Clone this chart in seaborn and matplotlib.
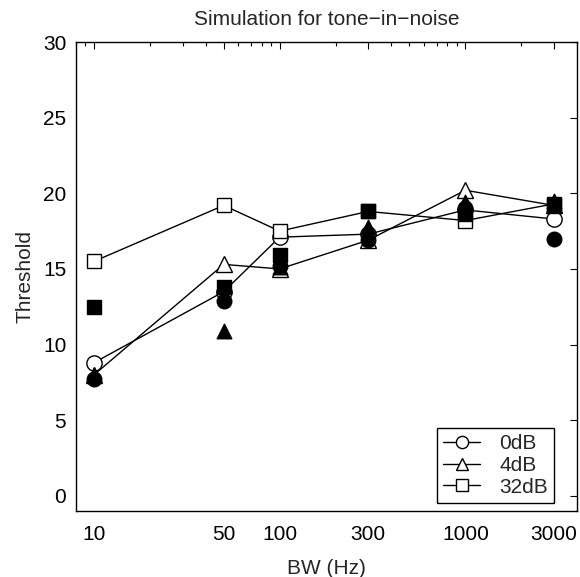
import matplotlib
matplotlib.use("Agg")
import matplotlib.pyplot as plt
import matplotlib.ticker as mticker
import numpy as np
import pandas as pd
import seaborn as sns

# Bandwidths (Hz)
bw = [10, 50, 100, 300, 1000, 3000]

# Simulated thresholds (open markers, joined by lines)
sim_0db = [8.8, 13.5, 17.1, 17.3, 18.9, 18.3]
sim_4db = [8.0, 15.3, 15.0, 16.9, 20.2, 19.2]
sim_32db = [15.5, 19.2, 17.5, 18.8, 18.2, 19.3]

# Measured thresholds (filled markers)
obs_0db = [7.7, 12.9, 15.2, 16.9, 19.0, 17.0]
obs_4db = [8.0, 10.9, 15.1, 17.8, 19.4, 19.5]
obs_32db = [12.5, 13.8, 15.9, 18.8, 18.6, 19.2]

labels = ["0dB", "4dB", "32dB"]
markers = ["o", "^", "s"]
tick_labels = ["10", "50", "100", "300", "1000", "3000"]

sns.set_style("white")
plt.rcParams["font.family"] = ["Liberation Sans", "DejaVu Sans"]

FS = 15

fig = plt.figure(figsize=(5.8, 5.77), dpi=100)
ax = fig.add_axes([0.131, 0.1144, 0.864, 0.8128])

sim_series = [sim_0db, sim_4db, sim_32db]
obs_series = [obs_0db, obs_4db, obs_32db]

for vals, lab, mk in zip(sim_series, labels, markers):
    df = pd.DataFrame({"bw": bw, "thr": vals})
    sns.lineplot(data=df, x="bw", y="thr", ax=ax, color="black", lw=1.0,
                 marker=mk, markersize=11 if mk != "s" else 10,
                 markerfacecolor="white", markeredgecolor="black",
                 markeredgewidth=1.0, label=lab, zorder=2)

for vals, mk in zip(obs_series, markers):
    df = pd.DataFrame({"bw": bw, "thr": vals})
    sns.scatterplot(data=df, x="bw", y="thr", ax=ax, marker=mk,
                    color="black", edgecolor="black", linewidth=1.0,
                    s=110 if mk != "s" else 95, zorder=3, legend=False)

ax.set_xscale("log")
ax.set_xlim(8, 4000)
ax.set_ylim(-1, 30)
ax.xaxis.set_major_locator(mticker.FixedLocator(bw))
ax.xaxis.set_major_formatter(mticker.FixedFormatter(tick_labels))
ax.xaxis.set_minor_locator(mticker.LogLocator(base=10, subs=np.arange(2, 10)))
ax.xaxis.set_minor_formatter(mticker.NullFormatter())
ax.set_yticks([0, 5, 10, 15, 20, 25, 30])

ax.tick_params(axis="both", which="both", direction="in", top=True, right=True,
               labelsize=FS, colors="black")
ax.tick_params(which="major", length=5, width=0.8)
ax.tick_params(which="minor", length=3, width=0.8)
ax.tick_params(axis="x", which="major", pad=10)
ax.tick_params(axis="y", which="major", pad=7)
for sp in ax.spines.values():
    sp.set_color("black")
    sp.set_linewidth(1.0)

ax.set_xlabel("BW (Hz)", fontsize=FS, labelpad=11)
ax.set_ylabel("Threshold", fontsize=FS, labelpad=6)
ax.set_title("Simulation for tone\u2212in\u2212noise", fontsize=FS, pad=12)

leg = ax.legend(loc="lower right", fontsize=FS, frameon=True, fancybox=False,
                edgecolor="black", framealpha=1, borderpad=0.3,
                labelspacing=0.14, handlelength=1.8, handletextpad=0.9,
                markerscale=0.8, borderaxespad=0,
                bbox_to_anchor=(0.954, 0.017))
leg.get_frame().set_linewidth(1.0)

fig.savefig("out.png", dpi=100)
